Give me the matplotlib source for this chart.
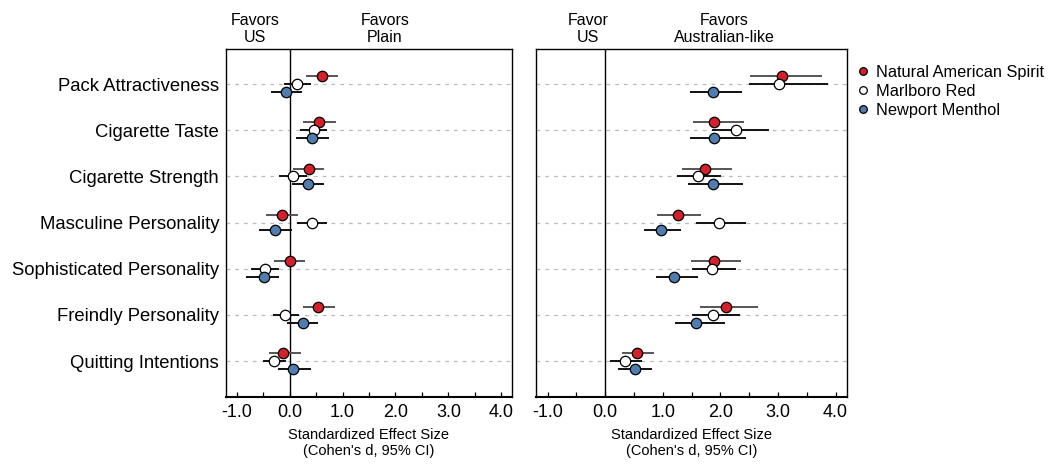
import numpy as np
import matplotlib
matplotlib.use("Agg")
import matplotlib.pyplot as plt
from matplotlib.ticker import MultipleLocator
from matplotlib.lines import Line2D

plt.rcParams['font.family'] = ['Liberation Sans', 'DejaVu Sans']

outcomes = ['Pack Attractiveness', 'Cigarette Taste', 'Cigarette Strength',
            'Masculine Personality', 'Sophisticated Personality',
            'Freindly Personality', 'Quitting Intentions']
brands = ['Natural American Spirit', 'Marlboro Red', 'Newport Menthol']
brand_colors = ['#d4202a', '#ffffff', '#4f7db0']
bar_colors = ['#555555', '#111111', '#111111']

# plain vs US (left panel): effect size, lower CI, upper CI
plain_d = {
    'Natural American Spirit': [0.61, 0.55, 0.37, -0.14, 0.01, 0.54, -0.12],
    'Marlboro Red':            [0.14, 0.46, 0.06, 0.43, -0.46, -0.08, -0.29],
    'Newport Menthol':         [-0.06, 0.42, 0.34, -0.27, -0.48, 0.25, 0.06],
}
plain_lo = {
    'Natural American Spirit': [0.31, 0.26, 0.06, -0.44, -0.29, 0.26, -0.38],
    'Marlboro Red':            [-0.11, 0.20, -0.19, 0.15, -0.73, -0.32, -0.51],
    'Newport Menthol':         [-0.35, 0.12, 0.04, -0.57, -0.82, -0.04, -0.21],
}
plain_hi = {
    'Natural American Spirit': [0.91, 0.87, 0.66, 0.16, 0.30, 0.86, 0.21],
    'Marlboro Red':            [0.41, 0.71, 0.33, 0.70, -0.19, 0.18, -0.06],
    'Newport Menthol':         [0.24, 0.74, 0.66, 0.04, -0.19, 0.53, 0.40],
}

# Australian-like vs US (right panel)
aus_d = {
    'Natural American Spirit': [3.07, 1.89, 1.74, 1.27, 1.89, 2.09, 0.56],
    'Marlboro Red':            [3.02, 2.28, 1.61, 1.97, 1.85, 1.88, 0.35],
    'Newport Menthol':         [1.87, 1.89, 1.88, 0.97, 1.19, 1.58, 0.52],
}
aus_lo = {
    'Natural American Spirit': [2.52, 1.53, 1.34, 0.90, 1.49, 1.64, 0.30],
    'Marlboro Red':            [2.49, 1.85, 1.25, 1.58, 1.51, 1.51, 0.09],
    'Newport Menthol':         [1.48, 1.48, 1.43, 0.67, 0.89, 1.21, 0.22],
}
aus_hi = {
    'Natural American Spirit': [3.77, 2.41, 2.21, 1.66, 2.36, 2.66, 0.84],
    'Marlboro Red':            [3.87, 2.84, 2.01, 2.44, 2.27, 2.34, 0.64],
    'Newport Menthol':         [2.38, 2.44, 2.40, 1.31, 1.62, 2.08, 0.82],
}

xticks = [-1.0, 0.0, 1.0, 2.0, 3.0, 4.0]
offsets = [-0.17, 0.0, 0.17]

fig = plt.figure(figsize=(10.55, 4.70), dpi=100)
ax1 = fig.add_axes([0.2142, 0.1553, 0.2711, 0.7404])
ax2 = fig.add_axes([0.5081, 0.1553, 0.2948, 0.7404])

rows = np.arange(len(outcomes))


def draw_panel(ax, d, lo, hi):
    for r in rows:
        ax.axhline(r, color='#bbbbbb', lw=0.9, ls=(0, (3, 4)), zorder=0)
    ax.axvline(0, color='black', lw=1.0, zorder=1)
    for b, off, fc, bc in zip(brands, offsets, brand_colors, bar_colors):
        y = rows + off
        ax.hlines(y, lo[b], hi[b], color=bc, lw=1.4, zorder=2)
        ax.plot(d[b], y, 'o', ms=7.5, mfc=fc, mec='black', mew=0.9, zorder=3)
    ax.set_xlim(-1.2, 4.2)
    ax.set_ylim(6.78, -0.76)
    ax.set_xticks(xticks)
    ax.set_xticklabels(['%.1f' % t for t in xticks], fontsize=13)
    ax.xaxis.set_minor_locator(MultipleLocator(0.5))
    ax.tick_params(axis='x', which='both', direction='in', length=3.5, width=0.9, top=False, pad=5)
    ax.tick_params(axis='y', length=0)
    ax.set_xlabel("Standardized Effect Size\n(Cohen's d, 95% CI)", fontsize=10.5, labelpad=5)
    for s in ax.spines.values():
        s.set_linewidth(1.0)
    ax.spines['bottom'].set_linewidth(1.5)


draw_panel(ax1, plain_d, plain_lo, plain_hi)
draw_panel(ax2, aus_d, aus_lo, aus_hi)

ax1.set_yticks(rows)
ax1.set_yticklabels(outcomes, fontsize=13.3)
ax1.tick_params(axis='y', pad=5)
ax2.set_yticks([])

fig.text(255 / 1055, 1 - 29 / 470, 'Favors\nUS', ha='center', va='center', fontsize=11.5, linespacing=1.1)
fig.text(385 / 1055, 1 - 29 / 470, 'Favors\nPlain', ha='center', va='center', fontsize=11.5, linespacing=1.1)
fig.text(588 / 1055, 1 - 29 / 470, 'Favor\nUS', ha='center', va='center', fontsize=11.5, linespacing=1.1)
fig.text(724 / 1055, 1 - 29 / 470, 'Favors\nAustralian-like', ha='center', va='center', fontsize=11.5, linespacing=1.1)

handles = [Line2D([], [], marker='o', ls='', ms=5.5, mfc=c, mec='black', mew=0.9) for c in brand_colors]
fig.legend(handles, brands, loc='upper left', bbox_to_anchor=(848 / 1055, 1 - 58 / 470),
           frameon=False, fontsize=11.8, handletextpad=0.3, labelspacing=0.25,
           handlelength=1.0, borderaxespad=0)

fig.savefig('out.png', dpi=100)
